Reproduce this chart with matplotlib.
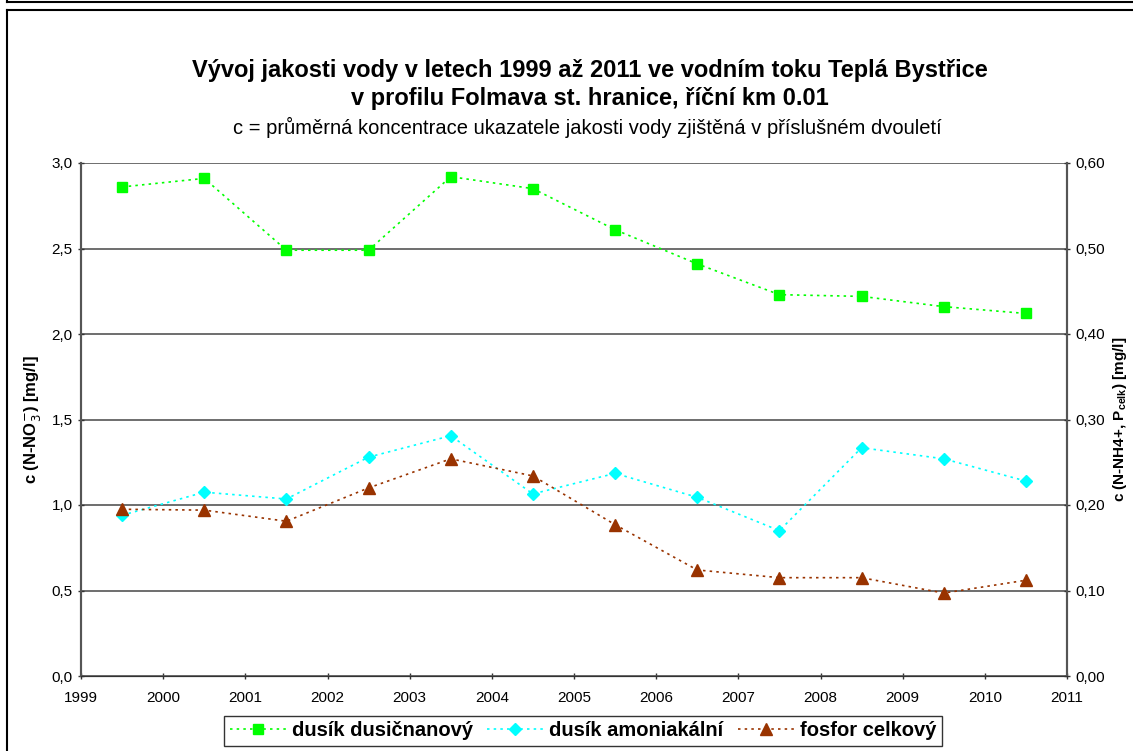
import matplotlib
matplotlib.use("Agg")
import matplotlib.pyplot as plt
from matplotlib.lines import Line2D
from matplotlib.ticker import FuncFormatter

years = [1999.5, 2000.5, 2001.5, 2002.5, 2003.5, 2004.5,
         2005.5, 2006.5, 2007.5, 2008.5, 2009.5, 2010.5]
dusicnan = [2.86, 2.91, 2.49, 2.49, 2.92, 2.85, 2.61, 2.41, 2.23, 2.22, 2.16, 2.12]
amoniak = [0.188, 0.215, 0.207, 0.256, 0.281, 0.213, 0.237, 0.209, 0.170, 0.267, 0.254, 0.228]
fosfor = [0.195, 0.194, 0.181, 0.220, 0.254, 0.234, 0.177, 0.124, 0.115, 0.115, 0.097, 0.112]
labels = ["dusík dusičnanový", "dusík amoniakální", "fosfor celkový"]

plt.rcParams["font.family"] = ["Liberation Sans", "DejaVu Sans"]

fig = plt.figure(figsize=(11.33, 7.51), dpi=100)
ax = fig.add_axes([81 / 1133, 1 - 676 / 751, (1067 - 81) / 1133, (676 - 163) / 751])
ax2 = ax.twinx()

# outer frames (chart area border)
fig.add_artist(Line2D([7 / 1133, 1.0], [1 - 2 / 751, 1 - 2 / 751], color="black", lw=1.5))
fig.add_artist(Line2D([7 / 1133, 7 / 1133], [1 - 2 / 751, 1.0], color="black", lw=1.5))
fig.add_artist(Line2D([7 / 1133, 1.0], [1 - 10 / 751, 1 - 10 / 751], color="black", lw=1.5))
fig.add_artist(Line2D([7 / 1133, 7 / 1133], [0, 1 - 10 / 751], color="black", lw=1.5))

ax.plot(years, dusicnan, color="#00ff00", ls=(0, (1.5, 2.5)), lw=1.2,
        marker="s", ms=7, mec="#00ff00", mfc="#00ff00", label=labels[0], zorder=3)
ax2.plot(years, amoniak, color="#00ffff", ls=(0, (1.5, 2.5)), lw=1.2,
         marker="D", ms=6, mec="#00ffff", mfc="#00ffff", label=labels[1], zorder=3)
ax2.plot(years, fosfor, color="#993300", ls=(0, (1.5, 2.5)), lw=1.2,
         marker="^", ms=8, mec="#993300", mfc="#993300", label=labels[2], zorder=3)

ax.set_xlim(1999, 2011)
ax.set_ylim(0, 3.0)
ax2.set_ylim(0, 0.6)
ax.set_xticks(range(1999, 2012))
ax.set_yticks([0, 0.5, 1.0, 1.5, 2.0, 2.5, 3.0])
ax2.set_yticks([0, 0.1, 0.2, 0.3, 0.4, 0.5, 0.6])
ax.yaxis.set_major_formatter(FuncFormatter(lambda v, p: f"{v:.1f}".replace(".", ",")))
ax2.yaxis.set_major_formatter(FuncFormatter(lambda v, p: f"{v:.2f}".replace(".", ",")))

ax.grid(axis="y", color="#555555", lw=1.2)
ax.set_axisbelow(True)
for a in (ax, ax2):
    a.spines["top"].set_visible(False)
    a.spines["left"].set_color("#555555")
    a.spines["right"].set_color("#555555")
    a.spines["left"].set_linewidth(1.5)
    a.spines["right"].set_linewidth(1.5)
    a.spines["bottom"].set_color("#333333")
    a.tick_params(labelsize=11, length=5, width=1, color="#333333", direction="inout")
ax.tick_params(axis="x", pad=8)

ax.set_ylabel("c (N-NO$_3^{-}$) [mg/l]", fontsize=12, fontweight="bold", labelpad=6)
ax2.set_ylabel("c (N-NH4+, P$_{\\mathregular{celk}}$) [mg/l]", fontsize=11,
               fontweight="bold", rotation=90, labelpad=4)

fig.text(0.521, 1 - 70 / 751, "Vývoj jakosti vody v letech 1999 až 2011 ve vodním toku Teplá Bystřice",
         ha="center", va="center", fontsize=17, fontweight="bold")
fig.text(0.521, 1 - 98 / 751, "v profilu Folmava st. hranice, říční km 0.01",
         ha="center", va="center", fontsize=17, fontweight="bold")
fig.text(0.518, 1 - 127 / 751, "c = průměrná koncentrace ukazatele jakosti vody zjištěná v příslušném dvouletí",
         ha="center", va="center", fontsize=14.5)

h1, l1 = ax.get_legend_handles_labels()
h2, l2 = ax2.get_legend_handles_labels()
leg = fig.legend(h1 + h2, l1 + l2, loc="center", bbox_to_anchor=(583 / 1133, 1 - 731 / 751),
                 ncol=3, frameon=True, fancybox=False, edgecolor="black",
                 prop={"weight": "bold", "size": 14.5}, handlelength=2.8,
                 handletextpad=0.3, columnspacing=0.7, borderpad=0.25)
leg.get_frame().set_linewidth(1.0)

fig.savefig("out.png", dpi=100)
